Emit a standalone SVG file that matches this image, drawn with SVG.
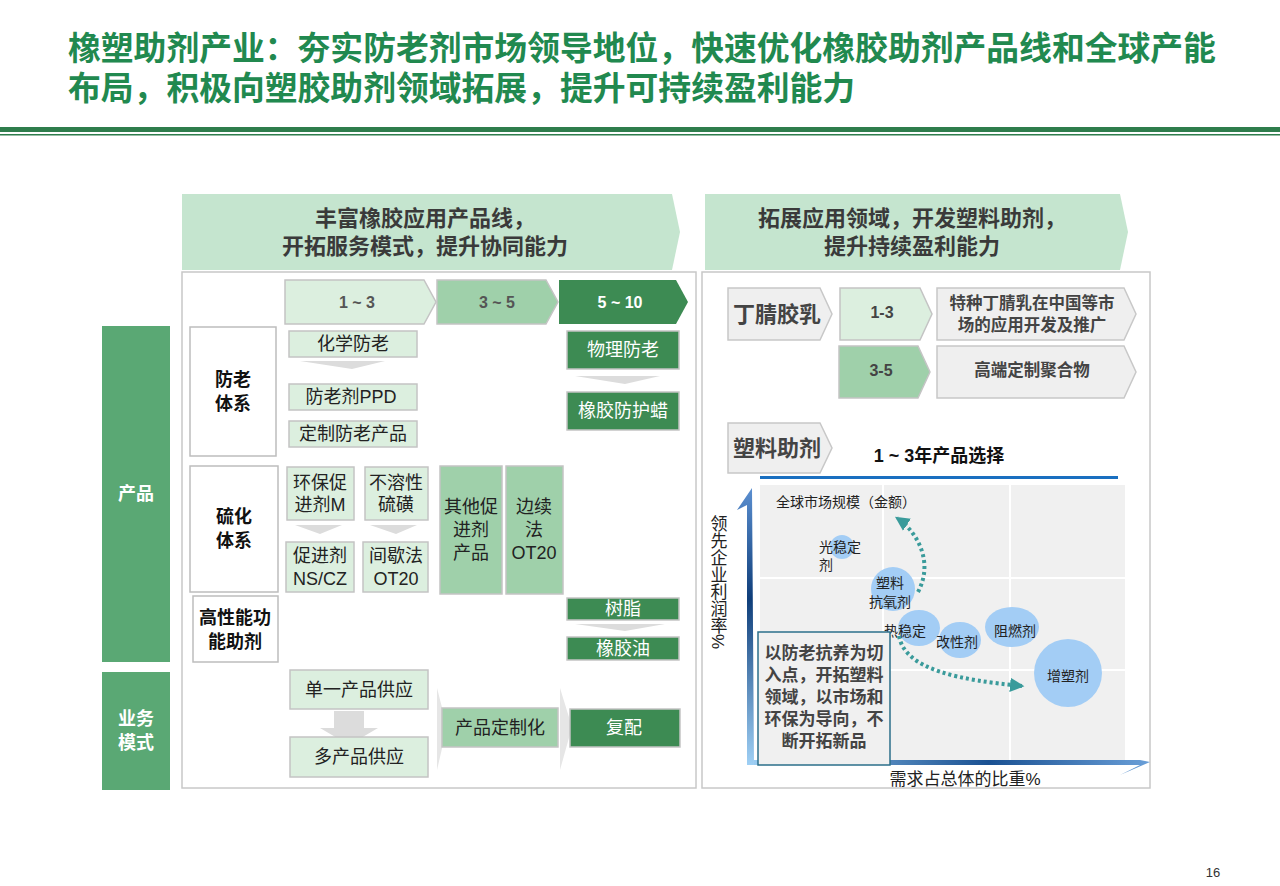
<svg xmlns="http://www.w3.org/2000/svg" width="1280" height="886" viewBox="0 0 1280 886">
<defs>
<style>
text{font-family:"Liberation Sans","Noto Sans CJK SC",sans-serif;text-anchor:middle;dominant-baseline:central}
.t{fill:#21894f;font-size:32.8px;font-weight:bold;text-anchor:start}
.h{fill:#3a3a3a;font-size:22px;font-weight:bold}
.lt{fill:#dcefdf;stroke:#c4c4c4;stroke-width:1.5}
.md{fill:#9fd0aa;stroke:#c4c4c4;stroke-width:1.5}
.dk{fill:#3d8b53;stroke:#c4c4c4;stroke-width:1.5}
.wb{fill:#fff;stroke:#bdbdbd;stroke-width:1.5}
.gy{fill:#efefef;stroke:#c8c8c8;stroke-width:1.5}
.s{font-size:18px;fill:#222}
.w{font-size:18px;fill:#fff}
.b{font-size:18px;font-weight:bold;fill:#111}
.ga{fill:#dcdcdc}
.bub{fill:#a3cdf5}
.c{font-size:14px;fill:#222}
.dot{fill:none;stroke:#3a9b9b;stroke-width:4;stroke-dasharray:3 3}
</style>
<marker id="ah" markerWidth="6" markerHeight="6" refX="3" refY="3" orient="auto" markerUnits="strokeWidth"><path d="M0,0 L6,3 L0,6 z" fill="#3a9b9b" transform="scale(0.6) translate(0,2)"/></marker>
<linearGradient id="gv" x1="0" y1="1" x2="0" y2="0"><stop offset="0" stop-color="#9fd0f5"/><stop offset="0.6" stop-color="#0f3e7a"/><stop offset="1" stop-color="#5b8fd0"/></linearGradient>
<linearGradient id="gh" x1="0" y1="0" x2="1" y2="0"><stop offset="0" stop-color="#9fd0f5"/><stop offset="0.6" stop-color="#1a5192"/><stop offset="1" stop-color="#6a9fd8"/></linearGradient>
</defs>
<rect width="1280" height="886" fill="#fff"/>
<g id="title">
<text class="t" x="68" y="48">橡塑助剂产业：夯实防老剂市场领导地位，快速优化橡胶助剂产品线和全球产能</text>
<text class="t" x="68" y="88">布局，积极向塑胶助剂领域拓展，提升可持续盈利能力</text>
<rect x="0" y="127" width="1280" height="5" fill="#2e7d4c"/>
<rect x="0" y="134" width="1280" height="1.5" fill="#2e7d4c"/>
</g>
<g id="headers">
<path d="M182,194 H672 L680,232 L672,270 H182 Z" fill="#c5e5cf"/>
<text class="h" x="425" y="218">丰富橡胶应用产品线，</text>
<text class="h" x="425" y="246">开拓服务模式，提升协同能力</text>
<path d="M705,194 H1120 L1128,232 L1120,270 H705 Z" fill="#c5e5cf"/>
<text class="h" x="912" y="218">拓展应用领域，开发塑料助剂，</text>
<text class="h" x="912" y="246">提升持续盈利能力</text>
</g>
<rect x="182" y="272" width="514" height="516" fill="none" stroke="#c8c8c8" stroke-width="1.5"/>
<rect x="702" y="272" width="448" height="516" fill="none" stroke="#c8c8c8" stroke-width="1.5"/>
<g id="side">
<rect x="102" y="326" width="68" height="336" fill="#5aa874"/>
<text x="136" y="494" font-size="18" font-weight="bold" fill="#fff">产品</text>
<rect x="102" y="672" width="68" height="118" fill="#5aa874"/>
<text x="136" y="719" font-size="18" font-weight="bold" fill="#fff">业务</text>
<text x="136" y="743" font-size="18" font-weight="bold" fill="#fff">模式</text>
</g>
<g id="rowheads">
<rect class="wb" x="190" y="327" width="86" height="129"/>
<text class="b" x="233" y="380">防老</text><text class="b" x="233" y="404">体系</text>
<rect class="wb" x="190" y="466" width="88" height="126"/>
<text class="b" x="234" y="517">硫化</text><text class="b" x="234" y="541">体系</text>
<rect class="wb" x="193" y="596" width="85" height="66"/>
<text class="b" x="235" y="618">高性能功</text><text class="b" x="235" y="642">能助剂</text>
</g>
<g id="timeline">
<path class="lt" d="M285,280 H424 L436,302 L424,324 H285 Z"/>
<text x="357" y="302" font-size="16" font-weight="bold" fill="#555">1 ~ 3</text>
<path class="md" d="M437,280 H546 L558,302 L546,324 H437 Z"/>
<text x="497" y="302" font-size="16" font-weight="bold" fill="#555">3 ~ 5</text>
<path d="M559,280 H676 L688,302 L676,324 H559 Z" fill="#3d8b53"/>
<text x="620" y="302" font-size="16" font-weight="bold" fill="#fff">5 ~ 10</text>
</g>
<g id="anti">
<rect class="lt" x="289" y="331" width="128" height="26"/><text class="s" x="353" y="344">化学防老</text>
<path class="ga" d="M300,361 H385 L352,369 Z"/>
<rect class="lt" x="289" y="384" width="128" height="26"/><text class="s" x="351" y="397">防老剂PPD</text>
<rect class="lt" x="289" y="421" width="128" height="26"/><text class="s" x="353" y="434">定制防老产品</text>
<rect class="dk" x="567" y="331" width="112" height="38"/><text class="w" x="623" y="350">物理防老</text>
<path class="ga" d="M575,376 H660 L625,384 Z"/>
<rect class="dk" x="567" y="392" width="112" height="38"/><text class="w" x="623" y="411">橡胶防护蜡</text>
</g>
<g id="vulc">
<rect class="lt" x="287" y="467" width="67" height="53"/><text class="s" x="320" y="483">环保促</text><text class="s" x="320" y="505">进剂M</text>
<rect class="lt" x="365" y="467" width="63" height="53"/><text class="s" x="396" y="483">不溶性</text><text class="s" x="396" y="505">硫磺</text>
<path class="ga" d="M295,525 H342 L320,534 Z"/>
<path class="ga" d="M370,525 H417 L396,534 Z"/>
<rect class="lt" x="286" y="542" width="68" height="50"/><text class="s" x="320" y="556">促进剂</text><text class="s" x="320" y="579">NS/CZ</text>
<rect class="lt" x="363" y="542" width="65" height="50"/><text class="s" x="396" y="556">间歇法</text><text class="s" x="396" y="579">OT20</text>
<rect class="md" x="440" y="466" width="62" height="128"/><text class="s" x="471" y="507">其他促</text><text class="s" x="471" y="530">进剂</text><text class="s" x="471" y="553">产品</text>
<rect class="md" x="506" y="466" width="57" height="128"/><text class="s" x="534" y="507">边续</text><text class="s" x="534" y="530">法</text><text class="s" x="534" y="553">OT20</text>
</g>
<g id="perf">
<rect class="dk" x="567" y="598" width="112" height="22"/><text class="w" x="623" y="609">树脂</text>
<path class="ga" d="M575,624 H665 L625,631 Z"/>
<rect class="dk" x="567" y="637" width="112" height="23"/><text class="w" x="623" y="649">橡胶油</text>
</g>
<g id="biz">
<rect class="lt" x="290" y="670" width="138" height="39"/><text class="s" x="359" y="690">单一产品供应</text>
<path class="ga" d="M334,711 H364 V728 H378 L349,745 L320,728 H334 Z"/>
<rect class="lt" x="290" y="737" width="138" height="40"/><text class="s" x="359" y="757">多产品供应</text>
<path fill="#e6e6e6" d="M437,688 L447,727 L437,770 Z"/>
<rect class="md" x="442" y="708" width="116" height="39"/><text class="s" x="500" y="728">产品定制化</text>
<path fill="#e6e6e6" d="M560,688 L572,727 L560,770 Z"/>
<rect class="dk" x="570" y="709" width="110" height="38"/><text class="w" x="624" y="728">复配</text>
</g>
<g id="rubberlatex">
<path class="gy" d="M728,288 H820 L832,314 L820,340 H728 Z"/>
<text x="777" y="314" font-size="22" font-weight="bold" fill="#444">丁腈胶乳</text>
<path class="lt" d="M840,288 H920 L932,314 L920,340 H840 Z"/>
<text x="882" y="312" font-size="16" font-weight="bold" fill="#444">1-3</text>
<path class="gy" d="M937,288 H1124 L1136,314 L1124,340 H937 Z"/>
<text x="1032" y="303" font-size="16.5" font-weight="bold" fill="#444">特种丁腈乳在中国等市</text>
<text x="1032" y="325" font-size="16.5" font-weight="bold" fill="#444">场的应用开发及推广</text>
<path class="md" d="M839,346 H918 L930,372 L918,398 H839 Z"/>
<text x="881" y="370" font-size="16" font-weight="bold" fill="#444">3-5</text>
<path class="gy" d="M937,346 H1124 L1136,372 L1124,398 H937 Z"/>
<text x="1032" y="370" font-size="16.5" font-weight="bold" fill="#444">高端定制聚合物</text>
</g>
<g id="plastic">
<path class="gy" d="M728,423 H820 L832,448 L820,473 H728 Z"/>
<text x="777" y="448" font-size="22" font-weight="bold" fill="#444">塑料助剂</text>
<text x="939" y="456" font-size="18" font-weight="bold" fill="#111">1 ~ 3年产品选择</text>
<rect x="760" y="476" width="358" height="3" fill="#1a6fc0"/>
</g>
<g id="chart">
<rect x="760" y="485" width="365" height="275" fill="#f0f0f0"/>
<line x1="883" y1="485" x2="883" y2="760" stroke="#fff" stroke-width="2"/>
<line x1="1010" y1="485" x2="1010" y2="760" stroke="#fff" stroke-width="2"/>
<line x1="760" y1="578" x2="1125" y2="578" stroke="#fff" stroke-width="2"/>
<line x1="760" y1="670" x2="1125" y2="670" stroke="#fff" stroke-width="2"/>
<path d="M747,765 V505 L737,510 L752,488 L754,765 Z" fill="url(#gv)"/>
<path d="M747,765 H1140 L1120,775 L1150,762 L1140,760 H754 V765 Z" fill="url(#gh)"/>
<text x="717" y="582" font-size="17" fill="#222" writing-mode="tb" glyph-orientation-vertical="0">领先企业利润率%</text>
<text x="965" y="779" font-size="17" fill="#222">需求占总体的比重%</text>
<text x="846" y="502" font-size="14" fill="#222">全球市场规模（金额）</text>
<circle class="bub" cx="842" cy="547" r="12"/>
<circle class="bub" cx="893" cy="589" r="22"/>
<ellipse class="bub" cx="919" cy="628" rx="21" ry="18"/>
<ellipse class="bub" cx="960" cy="640" rx="21" ry="18"/>
<ellipse class="bub" cx="1012" cy="627" rx="27" ry="20"/>
<circle class="bub" cx="1068" cy="673" r="34"/>
<text class="c" x="840" y="547">光稳定</text><text class="c" x="826" y="565">剂</text>
<text class="c" x="890" y="583">塑料</text><text class="c" x="890" y="602">抗氧剂</text>
<text class="c" x="905" y="631">热稳定</text>
<text class="c" x="957" y="642">改性剂</text>
<text class="c" x="1015" y="631">阻燃剂</text>
<text class="c" x="1068" y="676">增塑剂</text>
</g>
<g id="connectors">
<path class="dot" d="M918,592 C935,560 915,530 897,518" marker-end="url(#ah)"/>
<path class="dot" d="M899,636 C905,670 960,680 1022,686" marker-end="url(#ah)"/>
</g>
<g id="note">
<rect x="758" y="632" width="132" height="133" fill="#f0f0f0" stroke="#2b6f8a" stroke-width="1.5"/>
<text x="824" y="653" font-size="17" font-weight="bold" fill="#444">以防老抗养为切</text>
<text x="824" y="675" font-size="17" font-weight="bold" fill="#444">入点，开拓塑料</text>
<text x="824" y="697" font-size="17" font-weight="bold" fill="#444">领域，以市场和</text>
<text x="824" y="719" font-size="17" font-weight="bold" fill="#444">环保为导向，不</text>
<text x="824" y="741" font-size="17" font-weight="bold" fill="#444">断开拓新品</text>
</g>
<text x="1213" y="872" font-size="13" fill="#333">16</text>
</svg>
